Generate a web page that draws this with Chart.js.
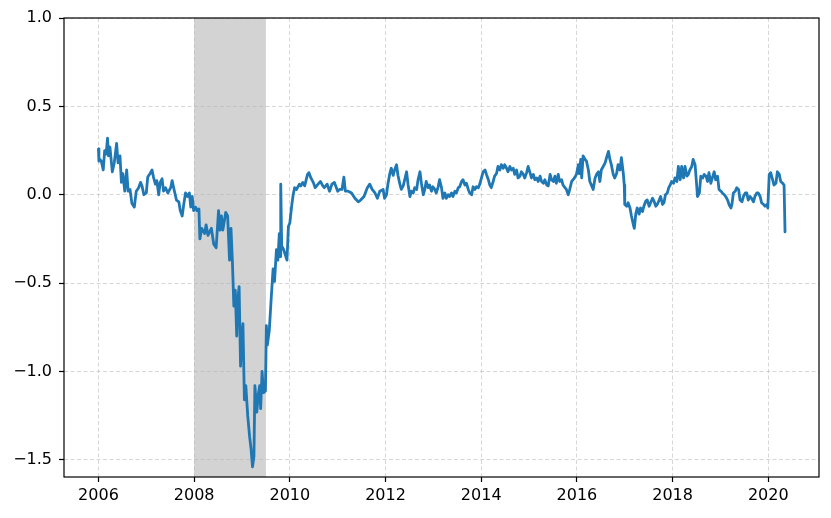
<!DOCTYPE html>
<html>
<head>
<meta charset="utf-8">
<script src="https://cdn.jsdelivr.net/npm/chart.js@4/dist/chart.umd.min.js"></script>
<style>
  html, body { margin: 0; padding: 0; background: #fff; }
  canvas { display: block; }
</style>
</head>
<body>
<canvas id="chart" width="831" height="518"></canvas>
<script>
// decimal year of each observation
const years = [
  2006.00, 2006.01, 2006.03, 2006.06, 2006.10, 2006.13, 2006.16, 2006.19, 2006.21, 2006.24,
  2006.29, 2006.33, 2006.38, 2006.41, 2006.45, 2006.48, 2006.51, 2006.55, 2006.59, 2006.62,
  2006.66, 2006.70, 2006.75, 2006.79, 2006.84, 2006.88, 2006.91, 2006.95, 2007.00, 2007.03,
  2007.08, 2007.12, 2007.15, 2007.19, 2007.22, 2007.26, 2007.29, 2007.33, 2007.36, 2007.40,
  2007.45, 2007.51, 2007.54, 2007.58, 2007.63, 2007.68, 2007.71, 2007.75, 2007.78, 2007.82,
  2007.86, 2007.90, 2007.93, 2007.96, 2007.99, 2008.03, 2008.06, 2008.10, 2008.12, 2008.16,
  2008.22, 2008.25, 2008.29, 2008.36, 2008.41, 2008.46, 2008.51, 2008.54, 2008.57, 2008.60,
  2008.66, 2008.70, 2008.74, 2008.77, 2008.80, 2008.83, 2008.86, 2008.89, 2008.91, 2008.94,
  2008.97, 2008.99, 2009.02, 2009.05, 2009.08, 2009.12, 2009.16, 2009.19, 2009.22, 2009.25,
  2009.27, 2009.31, 2009.34, 2009.37, 2009.39, 2009.42, 2009.45, 2009.49, 2009.51, 2009.53,
  2009.57, 2009.61, 2009.65, 2009.68, 2009.72, 2009.75, 2009.78, 2009.80, 2009.81, 2009.83,
  2009.87, 2009.94, 2009.97, 2010.00,
  2010.04, 2010.07, 2010.10, 2010.14, 2010.20, 2010.23, 2010.27, 2010.31, 2010.37, 2010.40,
  2010.44, 2010.49, 2010.53, 2010.59, 2010.64, 2010.69, 2010.72, 2010.78, 2010.83, 2010.88,
  2010.93, 2011.00, 2011.04, 2011.09, 2011.13, 2011.16, 2011.22, 2011.29, 2011.36, 2011.43,
  2011.48, 2011.55, 2011.62, 2011.67, 2011.72, 2011.78, 2011.83, 2011.88, 2011.95, 2011.98,
  2012.02, 2012.05, 2012.09, 2012.12, 2012.16, 2012.19, 2012.23, 2012.26, 2012.30, 2012.33,
  2012.37, 2012.40, 2012.44, 2012.47, 2012.51, 2012.54, 2012.58, 2012.61, 2012.65, 2012.68,
  2012.72, 2012.75, 2012.79, 2012.82, 2012.85, 2012.89, 2012.92, 2012.96, 2012.99, 2013.03,
  2013.06, 2013.10, 2013.13, 2013.17, 2013.20, 2013.24, 2013.27, 2013.31, 2013.34, 2013.38,
  2013.41, 2013.45, 2013.48, 2013.52, 2013.55, 2013.59, 2013.62, 2013.66, 2013.69, 2013.73,
  2013.76, 2013.80, 2013.83, 2013.87, 2013.90, 2013.94, 2013.97, 2014.01, 2014.04, 2014.08,
  2014.11, 2014.15, 2014.18, 2014.21, 2014.25, 2014.28, 2014.32, 2014.35, 2014.39, 2014.42,
  2014.46, 2014.49, 2014.53, 2014.56, 2014.60, 2014.63, 2014.67, 2014.70, 2014.74, 2014.77,
  2014.81, 2014.84, 2014.88, 2014.91, 2014.95, 2014.98, 2015.02, 2015.05, 2015.09, 2015.12,
  2015.16, 2015.19, 2015.23, 2015.26, 2015.30, 2015.33, 2015.37, 2015.40, 2015.44, 2015.47,
  2015.51, 2015.54, 2015.57, 2015.61, 2015.64, 2015.68, 2015.71, 2015.75, 2015.78, 2015.82,
  2015.85, 2015.89, 2015.92, 2015.96, 2015.99, 2016.03, 2016.05, 2016.08, 2016.10, 2016.13,
  2016.17, 2016.20, 2016.24, 2016.27, 2016.31, 2016.34, 2016.38, 2016.41, 2016.45, 2016.48,
  2016.51, 2016.55, 2016.59, 2016.62, 2016.66, 2016.69, 2016.72, 2016.76, 2016.79, 2016.83,
  2016.86, 2016.90, 2016.93, 2016.97, 2016.99, 2017.00, 2017.04, 2017.07, 2017.11, 2017.14,
  2017.18, 2017.20, 2017.23, 2017.26, 2017.30, 2017.33, 2017.37, 2017.40, 2017.44, 2017.47,
  2017.51, 2017.54, 2017.58, 2017.61, 2017.65, 2017.68, 2017.72, 2017.75, 2017.79, 2017.82,
  2017.85, 2017.89, 2017.92, 2017.95, 2017.98, 2018.02, 2018.05, 2018.09, 2018.12, 2018.16,
  2018.19, 2018.23, 2018.26, 2018.30, 2018.33, 2018.36, 2018.40, 2018.43, 2018.47, 2018.50,
  2018.52, 2018.56, 2018.59, 2018.63, 2018.66, 2018.70, 2018.73, 2018.76, 2018.80, 2018.83,
  2018.87, 2018.90, 2018.94, 2018.97, 2019.01, 2019.04, 2019.08, 2019.11, 2019.15, 2019.18,
  2019.22, 2019.24, 2019.27, 2019.31, 2019.34, 2019.38, 2019.41, 2019.45, 2019.48, 2019.52,
  2019.55, 2019.58, 2019.62, 2019.65, 2019.69, 2019.72, 2019.76, 2019.79, 2019.83, 2019.86,
  2019.90, 2019.93, 2019.97, 2019.99, 2020.02, 2020.05, 2020.09, 2020.12, 2020.16, 2020.19,
  2020.23, 2020.26, 2020.30, 2020.33, 2020.35
];

const values = [
  0.26, 0.19, 0.20, 0.19, 0.14, 0.25, 0.23, 0.32, 0.22, 0.27,
  0.13, 0.18, 0.29, 0.18, 0.22, 0.07, 0.12, 0.02, 0.14, 0.02,
  0.03, -0.05, -0.07, 0.02, 0.04, 0.07, 0.05, 0.00, 0.01, 0.10,
  0.12, 0.14, 0.10, 0.06, 0.08, 0.00, 0.07, 0.09, 0.02, 0.04,
  0.01, 0.04, 0.08, 0.03, -0.03, -0.04, -0.09, -0.12, -0.06, 0.01,
  -0.01, 0.01, -0.07, -0.01, -0.09, -0.07, -0.09, -0.08, -0.25, -0.19,
  -0.22, -0.17, -0.23, -0.19, -0.28, -0.30, -0.09, -0.20, -0.12, -0.20,
  -0.10, -0.12, -0.37, -0.19, -0.38, -0.63, -0.54, -0.80, -0.60, -0.52,
  -0.97, -0.82, -0.73, -1.16, -1.08, -1.25, -1.37, -1.44, -1.54, -1.48,
  -1.08, -1.23, -1.13, -1.08, -1.21, -1.00, -1.12, -1.11, -0.74, -0.85,
  -0.77, -0.59, -0.42, -0.49, -0.31, -0.37, -0.22, -0.35, 0.06, -0.29,
  -0.31, -0.37, -0.18, -0.16,
  -0.06, 0.00, 0.04, 0.03, 0.06, 0.05, 0.07, 0.05, 0.115, 0.125,
  0.095, 0.07, 0.04, 0.06, 0.075, 0.05, 0.04, 0.06, 0.02, 0.06,
  0.07, 0.02, 0.03, 0.03, 0.10, 0.02, 0.02, 0.01, -0.02, -0.04,
  -0.03, -0.01, 0.04, 0.06, 0.03, 0.01, -0.02, 0.02, 0.03, -0.02,
  0.00, 0.06, 0.12, 0.15, 0.11, 0.14, 0.17, 0.11, 0.06, 0.03,
  0.05, 0.085, 0.13, 0.06, -0.01, 0.02, 0.01, 0.04, 0.03, 0.085,
  0.13, 0.065, 0.00, 0.03, 0.075, 0.04, 0.055, 0.02, 0.045, 0.03,
  0.01, 0.045, 0.085, 0.04, -0.02, 0.01, -0.02, 0.00, -0.01, 0.01,
  -0.01, 0.02, 0.01, 0.04, 0.045, 0.075, 0.085, 0.055, 0.065, 0.03,
  0.01, 0.00, 0.045, 0.03, 0.045, 0.04, 0.06, 0.10, 0.13, 0.14,
  0.115, 0.085, 0.055, 0.04, 0.075, 0.105, 0.12, 0.16, 0.14, 0.17,
  0.15, 0.17, 0.15, 0.13, 0.16, 0.14, 0.15, 0.115, 0.14, 0.095,
  0.105, 0.13, 0.115, 0.095, 0.125, 0.16, 0.125, 0.095, 0.115, 0.085,
  0.095, 0.075, 0.105, 0.075, 0.065, 0.085, 0.055, 0.05, 0.115, 0.085,
  0.075, 0.105, 0.065, 0.115, 0.075, 0.085, 0.055, 0.04, 0.03, 0.00,
  0.03, 0.075, 0.085, 0.10, 0.115, 0.17, 0.12, 0.20, 0.095, 0.22,
  0.20, 0.19, 0.14, 0.075, 0.05, 0.03, 0.095, 0.115, 0.13, 0.075,
  0.14, 0.16, 0.18, 0.21, 0.245, 0.20, 0.17, 0.115, 0.095, 0.12,
  0.17, 0.14, 0.21, 0.12, 0.055, -0.055, -0.065, -0.045, -0.075, -0.12,
  -0.17, -0.19, -0.11, -0.075, -0.11, -0.075, -0.095, -0.065, -0.035, -0.03,
  -0.065, -0.045, -0.02, -0.035, -0.065, -0.055, -0.03, -0.01, -0.055, -0.045,
  0.00, 0.01, 0.04, 0.055, 0.075, 0.065, 0.095, 0.075, 0.16, 0.085,
  0.16, 0.095, 0.16, 0.105, 0.115, 0.14, 0.16, 0.20, 0.17, 0.065,
  -0.01, 0.01, 0.105, 0.095, 0.115, 0.105, 0.075, 0.125, 0.065, 0.095,
  0.13, 0.085, 0.105, 0.03, 0.02, 0.01, 0.00, -0.01, -0.03, -0.055,
  -0.075, -0.055, 0.01, 0.02, 0.04, 0.03, -0.03, -0.04, -0.01, 0.01,
  0.01, -0.03, -0.01, -0.02, -0.04, -0.01, 0.01, 0.01, -0.01, -0.045,
  -0.055, -0.065, -0.055, -0.075, 0.115, 0.125, 0.085, 0.055, 0.065, 0.13,
  0.115, 0.075, 0.065, 0.055, -0.21
];

// shaded recession band
const recession = [2008.0, 2009.5];

const xTicks = [2006, 2008, 2010, 2012, 2014, 2016, 2018, 2020];
const yTicks = [-1.5, -1.0, -0.5, 0.0, 0.5, 1.0];

const tickFont = { family: 'DejaVu Sans', size: 16 };
const gridColor = 'rgba(176,176,176,0.5)';

const shadePlugin = {
  id: 'shade',
  beforeDraw(chart) {
    const { ctx, chartArea, scales } = chart;
    const x1 = scales.x.getPixelForValue(recession[0]);
    const x2 = scales.x.getPixelForValue(recession[1]);
    ctx.save();
    ctx.fillStyle = '#d3d3d3';
    ctx.fillRect(x1, chartArea.top, x2 - x1, chartArea.bottom - chartArea.top);
    ctx.restore();
  },
  afterDraw(chart) {
    // matplotlib style box round the axes
    const { ctx, chartArea } = chart;
    ctx.save();
    ctx.strokeStyle = '#000';
    ctx.lineWidth = 1.2;
    ctx.strokeRect(chartArea.left, chartArea.top,
      chartArea.right - chartArea.left, chartArea.bottom - chartArea.top);
    ctx.restore();
  }
};

new Chart(document.getElementById('chart').getContext('2d'), {
  type: 'line',
  data: {
    datasets: [{
      data: years.map((y, i) => ({ x: y, y: values[i] })),
      borderColor: '#1f77b4',
      borderWidth: 2.8,
      borderJoinStyle: 'round',
      borderCapStyle: 'round',
      pointRadius: 0,
      tension: 0,
      fill: false
    }]
  },
  options: {
    responsive: false,
    animation: false,
    devicePixelRatio: 1,
    layout: { padding: { top: 18, right: 12, left: 0, bottom: 0 } },
    plugins: {
      legend: { display: false },
      tooltip: { enabled: false }
    },
    scales: {
      x: {
        type: 'linear',
        min: 2005.28,
        max: 2021.06,
        afterBuildTicks: s => { s.ticks = xTicks.map(v => ({ value: v })); },
        afterFit: s => { s.height = 41; },
        ticks: {
          color: '#000',
          font: tickFont,
          padding: 4,
          maxRotation: 0,
          callback: v => String(v)
        },
        grid: {
          color: gridColor,
          lineWidth: 1,
          tickColor: '#000',
          tickLength: 5,
          tickWidth: 1.2,
          tickBorderDash: []
        },
        border: { display: false, dash: [4, 2.5] }
      },
      y: {
        min: -1.597,
        max: 1.0,
        afterBuildTicks: s => { s.ticks = yTicks.map(v => ({ value: v })); },
        afterFit: s => { s.width = 64; },
        ticks: {
          color: '#000',
          font: tickFont,
          padding: 7,
          callback: v => v.toFixed(1).replace('-', '\u2212')
        },
        grid: {
          color: gridColor,
          lineWidth: 1,
          tickColor: '#000',
          tickLength: 5,
          tickWidth: 1.2,
          tickBorderDash: []
        },
        border: { display: false, dash: [4, 2.5] }
      }
    }
  },
  plugins: [shadePlugin]
});
</script>
</body>
</html>
